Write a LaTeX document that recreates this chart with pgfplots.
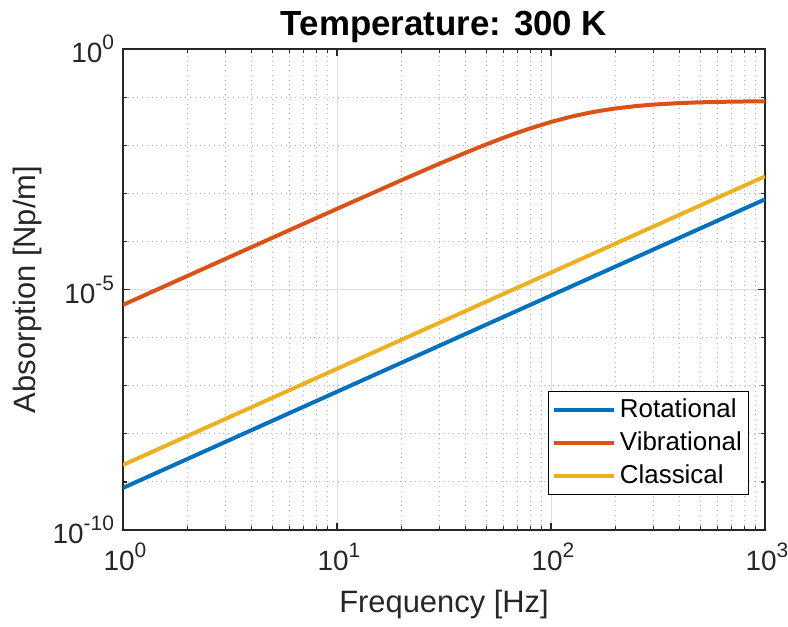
\documentclass[border=0pt]{standalone}
\usepackage{pgfplots}
\pgfplotsset{compat=1.18}
\usepackage{fontspec}
\setmainfont{Liberation Sans}
\definecolor{mblue}{rgb}{0,0.447,0.741}
\definecolor{morange}{rgb}{0.85,0.325,0.098}
\definecolor{myellow}{rgb}{0.929,0.694,0.125}
\newcommand{\sups}[1]{\raisebox{6.5bp}{\fontsize{10.5}{12}\selectfont #1}}
\begin{document}
\begin{tikzpicture}
\begin{axis}[
  scale only axis,
  width=321bp, height=240.5bp,
  xmode=log, ymode=log,
  xmin=1, xmax=1000, ymin=1e-10, ymax=1,
  xtick={1,10,100,1000},
  xticklabels={10\sups{0},10\sups{1},10\sups{2},10\sups{3}},
  minor xtick={2,3,4,5,6,7,8,9,20,30,40,50,60,70,80,90,200,300,400,500,600,700,800,900},
  ytick={1e-10,1e-5,1},
  yticklabels={10\sups{-10},10\sups{-5},10\sups{0}},
  minor ytick={1e-9,1e-8,1e-7,1e-6,1e-4,1e-3,1e-2,1e-1},
  grid=both,
  major grid style={solid, draw=black!13, line width=0.5bp},
  minor grid style={dotted, draw=black!30, line width=0.5bp},
  axis line style={draw=black!85, line width=0.6bp},
  tick style={draw=black!85, line width=0.6bp},
  tick align=inside,
  major tick length=3.5bp, minor tick length=2bp,
  ticklabel style={font=\fontsize{14}{16}\selectfont, text=black!85},
  /pgf/number format/assume math mode=true,
  xticklabel style={yshift=-3bp, xshift=1bp},
  yticklabel style={xshift=-1bp},
  xlabel={Frequency [Hz]},
  ylabel={Absorption [Np/m]},
  label style={font=\fontsize{15.5}{18}\selectfont, text=black!85},
  xlabel style={at={(axis description cs:0.5,-0.1705)}, anchor=base},
  ylabel style={at={(axis description cs:-0.148,0.5)}, anchor=center},
  every axis title shift=0pt,
  title={Temperature: 300 K},
  title style={font=\fontsize{17.5}{20}\selectfont\bfseries, at={(axis description cs:0.5,1.029)}, anchor=base},
  legend style={at={(axis description cs:0.9757,0.0728)}, anchor=south east,
    draw=black, fill=white, line width=0.5bp,
    font=\fontsize{13}{15}\selectfont,
    inner xsep=1.5bp, inner ysep=2.5bp, row sep=2.5bp,
    nodes={inner xsep=2bp, inner ysep=1.5bp}},
  legend cell align=left,
  legend image code/.code={\draw[#1] (0bp,0bp) -- (30bp,0bp);},
]
\addplot[mblue, line width=2bp] coordinates {
 (1,7.5e-10) (10,7.5e-8) (100,7.5e-6) (1000,7.5e-4)
};
\addlegendentry{Rotational}
\addplot[morange, line width=2bp] coordinates {
 (1,4.786e-6) (2,1.914e-5) (5,1.1948e-4) (10,4.759e-4) (20,1.8714e-3)
 (30,4.096e-3) (40,7.014e-3) (50,1.0464e-2) (60,1.4280e-2) (70,1.8304e-2)
 (80,2.2402e-2) (100,3.0408e-2) (120,3.7734e-2) (130,4.106e-2) (150,4.700e-2)
 (170,5.2025e-2) (200,5.809e-2) (250,6.5212e-2) (300,6.987e-2) (400,7.5202e-2)
 (500,7.796e-2) (700,8.053e-2) (1000,8.196e-2)
};
\addlegendentry{Vibrational}
\addplot[myellow, line width=2bp] coordinates {
 (1,2.25e-9) (10,2.25e-7) (100,2.25e-5) (1000,2.25e-3)
};
\addlegendentry{Classical}
\end{axis}
\pgfresetboundingbox
\path[use as bounding box] ([shift={(-61.5bp,-48bp)}]current axis.south west) rectangle ([shift={(11.5bp,24.5bp)}]current axis.north east);
\end{tikzpicture}
\end{document}
